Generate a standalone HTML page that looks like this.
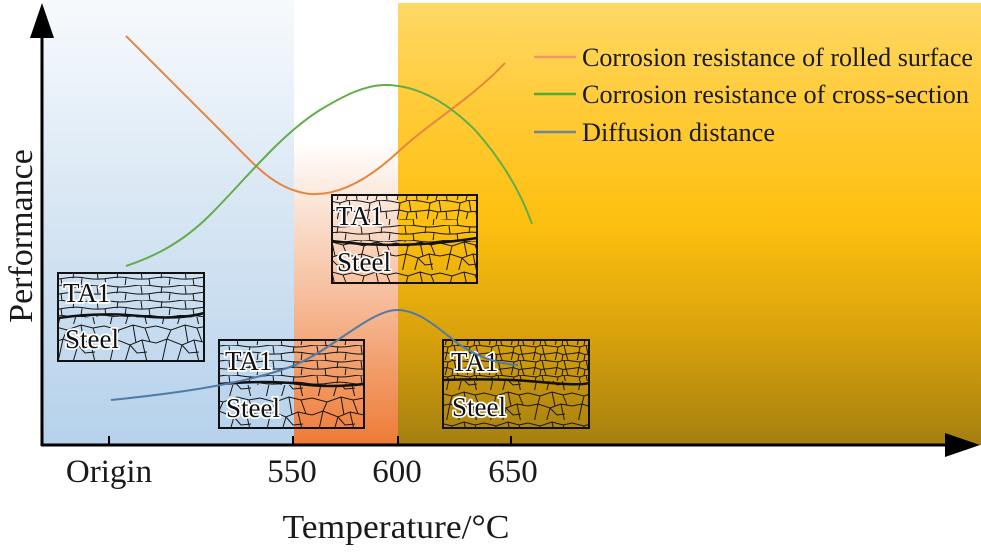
<!DOCTYPE html>
<html><head><meta charset="utf-8"><style>
html,body{margin:0;padding:0;background:#fff;}
svg{display:block;}
text{font-family:"Liberation Serif",serif;}
.lbl{fill:#111;stroke:#fff;stroke-width:3.5;paint-order:stroke;stroke-linejoin:round;font-size:27px;font-family:"Liberation Serif",serif;}
</style></head><body>
<svg width="981" height="553" viewBox="0 0 981 553" xmlns="http://www.w3.org/2000/svg">
<defs>
<linearGradient id="gb" x1="0" y1="0" x2="0" y2="445" gradientUnits="userSpaceOnUse">
<stop offset="0" stop-color="#f7fafd"/><stop offset="0.5" stop-color="#d6e5f3"/><stop offset="1" stop-color="#b5d1eb"/>
</linearGradient>
<linearGradient id="gm" x1="0" y1="0" x2="0" y2="445" gradientUnits="userSpaceOnUse">
<stop offset="0" stop-color="#ffffff"/><stop offset="0.32" stop-color="#ffffff"/><stop offset="0.45" stop-color="#fbe6d9"/><stop offset="0.68" stop-color="#f6bb98"/><stop offset="1" stop-color="#ee7b36"/>
</linearGradient>
<linearGradient id="gy" x1="0" y1="3" x2="0" y2="445" gradientUnits="userSpaceOnUse">
<stop offset="0" stop-color="#ffd866"/><stop offset="0.25" stop-color="#ffca34"/><stop offset="0.5" stop-color="#fdc010"/><stop offset="0.75" stop-color="#d9a20c"/><stop offset="1" stop-color="#a47f10"/>
</linearGradient>
<pattern id="steel" width="52" height="36" patternUnits="userSpaceOnUse">
<path d="M0,2 L15,6 L29,1 L41,4 L52,2 M0,19 L11,15 L26,21 L38,16 L52,19 M15,6 L11,15 M29,1 L32,19 M41,4 L46,18 M11,15 L6,38 M26,21 L21,38 M38,16 L43,38 M26,21 L33,29 L43,28" stroke="#151515" stroke-width="1" fill="none"/>
</pattern>
<pattern id="steel2" width="44" height="30" patternUnits="userSpaceOnUse">
<path d="M0,3 L12,6 L24,2 L35,5 L44,3 M0,16 L10,14 L22,18 L33,14 L44,16 M12,6 L10,14 M24,2 L27,16 M35,5 L39,15 M10,14 L6,33 M22,18 L18,33 M33,14 L37,33 M22,18 L29,25 L37,24" stroke="#1a1408" stroke-width="1" fill="none"/>
</pattern>
<pattern id="elong" width="44" height="15" patternUnits="userSpaceOnUse">
<path d="M0,1 Q11,-1 22,1 T44,1 M0,8.5 Q11,10 22,8 T44,8.5 M9,1 L10,8.6 M30,1.2 L29,8.2 M17,8.2 L18,16 M38,8.3 L37,16" stroke="#151515" stroke-width="1" fill="none"/>
</pattern>
<pattern id="fine" width="22" height="15" patternUnits="userSpaceOnUse">
<path d="M0,1 L8,2 L14,0 L22,1 M0,8.5 L7,7.5 L13,9.5 L22,8.5 M8,2 L7,7.5 M14,0 L16,9 M7,7.5 L5,16 M13,9.5 L12,15 M16,9 L18,15" stroke="#1a1408" stroke-width="1" fill="none"/>
</pattern>
<pattern id="med" width="30" height="20" patternUnits="userSpaceOnUse">
<path d="M0,1 L10,3 L19,0 L30,1 M0,11 L9,10 L18,12 L30,11 M10,3 L9,10 M19,0 L21,11.7 M9,10 L7,21 M18,12 L16,20 M26,11.4 L27,20" stroke="#151515" stroke-width="1" fill="none"/>
</pattern>
</defs>

<!-- backgrounds -->
<rect x="43" y="0" width="251" height="445" fill="url(#gb)"/>
<rect x="294" y="0" width="104" height="445" fill="url(#gm)"/>
<rect x="398" y="3" width="583" height="442" fill="url(#gy)"/>

<!-- Box 1 -->
<rect x="58" y="273" width="146" height="44" fill="url(#elong)"/>
<rect x="58" y="317" width="146" height="44" fill="url(#steel)"/>
<path d="M58,318 Q100,312 140,316 T204,313" stroke="#111" stroke-width="2.5" fill="none"/>
<rect x="58" y="273" width="146" height="88" fill="none" stroke="#111" stroke-width="2"/>
<text class="lbl" x="63" y="302" font-family="Liberation Serif, serif">TA1</text>
<text class="lbl" x="65" y="348" font-family="Liberation Serif, serif">Steel</text>

<!-- Box 2 -->
<rect x="219" y="340" width="145" height="45" fill="url(#elong)"/>
<rect x="219" y="385" width="145" height="43" fill="url(#steel)"/>
<path d="M219,384 Q270,380 300,384 T364,384" stroke="#111" stroke-width="2.5" fill="none"/>
<rect x="219" y="340" width="145" height="88" fill="none" stroke="#111" stroke-width="2"/>
<text class="lbl" x="225" y="370" font-family="Liberation Serif, serif">TA1</text>
<text class="lbl" x="226" y="417" font-family="Liberation Serif, serif">Steel</text>

<!-- Box 3 -->
<rect x="332" y="195" width="145" height="24" fill="url(#med)"/>
<rect x="332" y="219" width="145" height="23" fill="url(#elong)"/>
<rect x="332" y="242" width="145" height="41" fill="url(#steel2)"/>
<path d="M332,241 Q400,250 477,238" stroke="#111" stroke-width="2.5" fill="none"/>
<rect x="332" y="195" width="145" height="88" fill="none" stroke="#111" stroke-width="2"/>
<text class="lbl" x="336" y="225" font-family="Liberation Serif, serif">TA1</text>
<text class="lbl" x="337" y="271" font-family="Liberation Serif, serif">Steel</text>

<!-- Box 4 -->
<rect x="443" y="340" width="146" height="41" fill="url(#fine)"/>
<rect x="443" y="381" width="146" height="47" fill="url(#steel2)"/>
<path d="M443,380 Q500,378 540,382 T589,383" stroke="#111" stroke-width="2.5" fill="none"/>
<rect x="443" y="340" width="146" height="88" fill="none" stroke="#111" stroke-width="2"/>
<text class="lbl" x="451" y="371" font-family="Liberation Serif, serif">TA1</text>
<text class="lbl" x="452" y="416" font-family="Liberation Serif, serif">Steel</text>

<!-- curves -->
<path d="M126,36 C150,60 195,105 225,135 C255,165 275,190 310,194 C340,196 370,178 398,152 C430,122 470,100 505,63" stroke="#e7843e" stroke-width="2" fill="none"/>
<path d="M126,266 C150,258 180,245 210,215 C245,180 280,135 320,110 C345,95 365,85 385,85 C420,85 450,105 475,130 C500,158 520,190 532,224" stroke="#62ad48" stroke-width="2" fill="none"/>
<path d="M111,400 C170,394 240,385 290,367 C330,352 370,310 397,310 C420,310 440,330 460,345 C480,358 500,364 518,365" stroke="#4f7ba6" stroke-width="2" fill="none"/>

<!-- legend -->
<line x1="534" y1="57" x2="576" y2="57" stroke="#ee9a62" stroke-width="2.5"/>
<line x1="534" y1="94" x2="576" y2="94" stroke="#4dae3c" stroke-width="2.5"/>
<line x1="534" y1="132" x2="576" y2="132" stroke="#6d88a0" stroke-width="2.5"/>
<text x="582" y="66" font-size="26" fill="#1a1a1a" textLength="391" lengthAdjust="spacingAndGlyphs">Corrosion resistance of rolled surface</text>
<text x="582" y="103" font-size="26" fill="#1a1a1a" textLength="387" lengthAdjust="spacingAndGlyphs">Corrosion resistance of cross-section</text>
<text x="582" y="141" font-size="26" fill="#1a1a1a" textLength="193" lengthAdjust="spacingAndGlyphs">Diffusion distance</text>

<!-- axes -->
<line x1="42" y1="35" x2="42" y2="446" stroke="#000" stroke-width="3"/>
<polygon points="42,3 30,38 54,38" fill="#000"/>
<line x1="41" y1="445" x2="948" y2="445" stroke="#000" stroke-width="3"/>
<polygon points="980,445 945,433 945,457" fill="#000"/>
<g stroke="#000" stroke-width="2">
<line x1="109" y1="436" x2="109" y2="445"/>
<line x1="293" y1="436" x2="293" y2="445"/>
<line x1="398" y1="436" x2="398" y2="445"/>
<line x1="511" y1="436" x2="511" y2="445"/>
</g>
<g font-size="33" fill="#1a1a1a" text-anchor="middle">
<text x="109" y="482">Origin</text>
<text x="292" y="482">550</text>
<text x="397" y="482">600</text>
<text x="513" y="482">650</text>
</g>
<text x="396" y="538" font-size="34" fill="#1a1a1a" text-anchor="middle" textLength="227" lengthAdjust="spacingAndGlyphs">Temperature/°C</text>
<text transform="translate(32,236) rotate(-90)" font-size="34" fill="#1a1a1a" text-anchor="middle">Performance</text>
</svg>
</body></html>
